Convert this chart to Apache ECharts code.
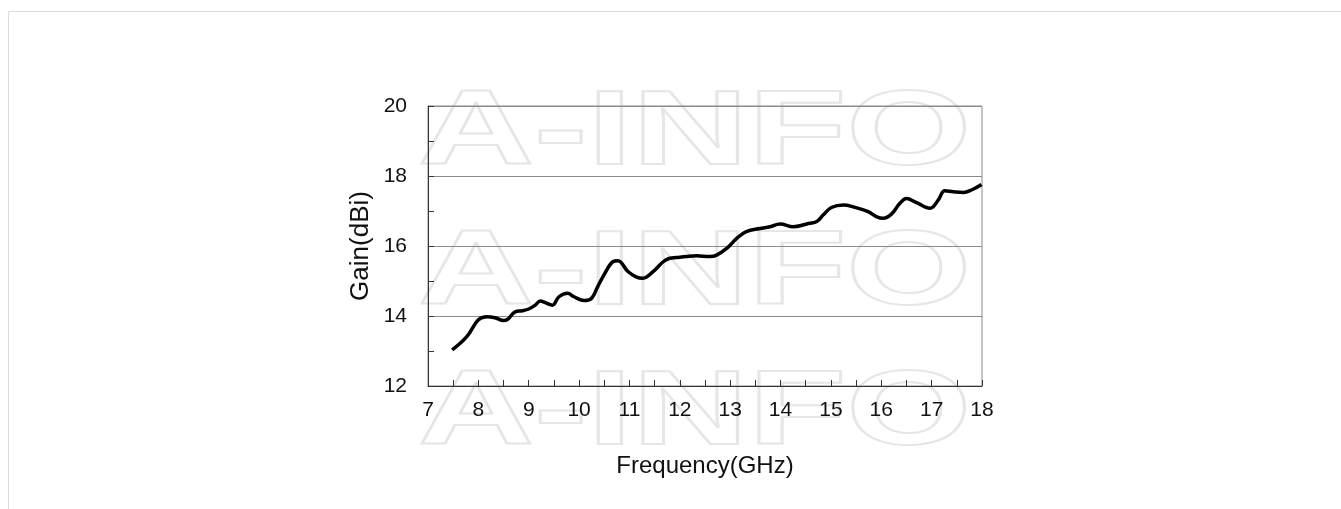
<!DOCTYPE html>
<html>
<head>
<meta charset="utf-8">
<title>Gain vs Frequency</title>
<script src="https://cdn.jsdelivr.net/npm/echarts@6/dist/echarts.min.js"></script>
<style>
  html, body { margin: 0; padding: 0; background: #fff; }
  #chart { width: 1341px; height: 509px; }
</style>
</head>
<body>
<div id="chart"></div>
<script>
// 频率 (GHz) 与增益 (dBi)
const freq = [7.48, 7.77, 8.0, 8.17, 8.33, 8.5, 8.57, 8.73, 8.87, 9.0,
    9.13, 9.23, 9.33, 9.47, 9.6, 9.77, 9.9, 10.1, 10.23, 10.37,
    10.5, 10.67, 10.77, 10.97, 11.13, 11.27, 11.47, 11.67, 11.8, 11.93,
    12.13, 12.33, 12.6, 12.73, 12.93, 13.13, 13.32, 13.59, 13.79, 13.99,
    14.25, 14.52, 14.72, 14.85, 15.01, 15.25, 15.44, 15.74, 15.9, 16.04,
    16.2, 16.37, 16.5, 16.7, 16.97, 17.13, 17.26, 17.43, 17.63, 17.79, 17.99];
const gain = [13.03, 13.41, 13.89, 13.98, 13.95, 13.87, 13.89, 14.12, 14.15, 14.2,
    14.31, 14.43, 14.38, 14.31, 14.55, 14.65, 14.55, 14.44, 14.48, 14.84,
    15.19, 15.55, 15.58, 15.27, 15.12, 15.08, 15.27, 15.55, 15.65, 15.67,
    15.70, 15.72, 15.70, 15.74, 15.93, 16.22, 16.41, 16.50, 16.55, 16.63,
    16.55, 16.63, 16.70, 16.89, 17.10, 17.17, 17.12, 16.98, 16.84, 16.79,
    16.91, 17.22, 17.36, 17.24, 17.08, 17.31, 17.58, 17.55, 17.53, 17.60, 17.76];

const xTicks = [7, 8, 9, 10, 11, 12, 13, 14, 15, 16, 17, 18];
const yTicks = [12, 14, 16, 18, 20];

const FONT = 'Liberation Sans, Arial, sans-serif';

const chart = echarts.init(document.getElementById('chart'));

// 水印文字
const watermark = [83, 223, 363].map(function (top) {
    return {
        type: 'text',
        x: 418,
        y: top,
        scaleX: 1.53,
        z: -10,
        silent: true,
        style: {
            text: 'A-INFO',
            font: 'bold 105px ' + FONT,
            fill: 'rgba(0,0,0,0)',
            stroke: '#e6e6e6',
            lineWidth: 2,
            textVerticalAlign: 'top'
        }
    };
});

const option = {
    animation: false,
    backgroundColor: '#fff',
    graphic: [
        {
            type: 'polyline',
            silent: true,
            shape: { points: [[8.5, 509], [8.5, 11.5], [1341, 11.5]] },
            style: { stroke: '#dcdcdc', lineWidth: 1, fill: null }
        }
    ].concat(watermark),
    grid: {
        left: 428,
        top: 106,
        right: 359,
        bottom: 123,
        show: true,
        borderColor: '#8a8a8a',
        borderWidth: 1
    },
    xAxis: {
        type: 'value',
        min: xTicks[0],
        max: xTicks[xTicks.length - 1],
        interval: 1,
        name: 'Frequency(GHz)',
        nameLocation: 'middle',
        nameGap: 68,
        nameTextStyle: { fontFamily: FONT, fontSize: 24, color: '#111' },
        axisLine: { onZero: false, lineStyle: { color: '#333', width: 1 } },
        axisTick: { show: true, inside: true, length: 6, lineStyle: { color: '#333' } },
        minorTick: { show: true, splitNumber: 2, length: 6, lineStyle: { color: '#333' } },
        axisLabel: { fontFamily: FONT, fontSize: 21, color: '#111', margin: 14 },
        splitLine: { show: false },
        minorSplitLine: { show: false }
    },
    yAxis: {
        type: 'value',
        min: yTicks[0],
        max: yTicks[yTicks.length - 1],
        interval: 2,
        name: 'Gain(dBi)',
        nameLocation: 'middle',
        nameGap: 54,
        nameTextStyle: { fontFamily: FONT, fontSize: 26, color: '#111' },
        axisLine: { onZero: false, lineStyle: { color: '#333', width: 1 } },
        axisTick: { show: true, inside: true, length: 6, lineStyle: { color: '#333' } },
        minorTick: { show: true, splitNumber: 2, length: 6, lineStyle: { color: '#333' } },
        axisLabel: { fontFamily: FONT, fontSize: 21, color: '#111', margin: 21 },
        splitLine: { show: true, lineStyle: { color: '#8a8a8a', width: 1 } }
    },
    series: [
        {
            type: 'line',
            data: freq.map(function (f, i) { return [f, gain[i]]; }),
            smooth: 0.4,
            showSymbol: false,
            lineStyle: { color: '#000', width: 3.5 },
            z: 5
        }
    ]
};

chart.setOption(option);
</script>
</body>
</html>
